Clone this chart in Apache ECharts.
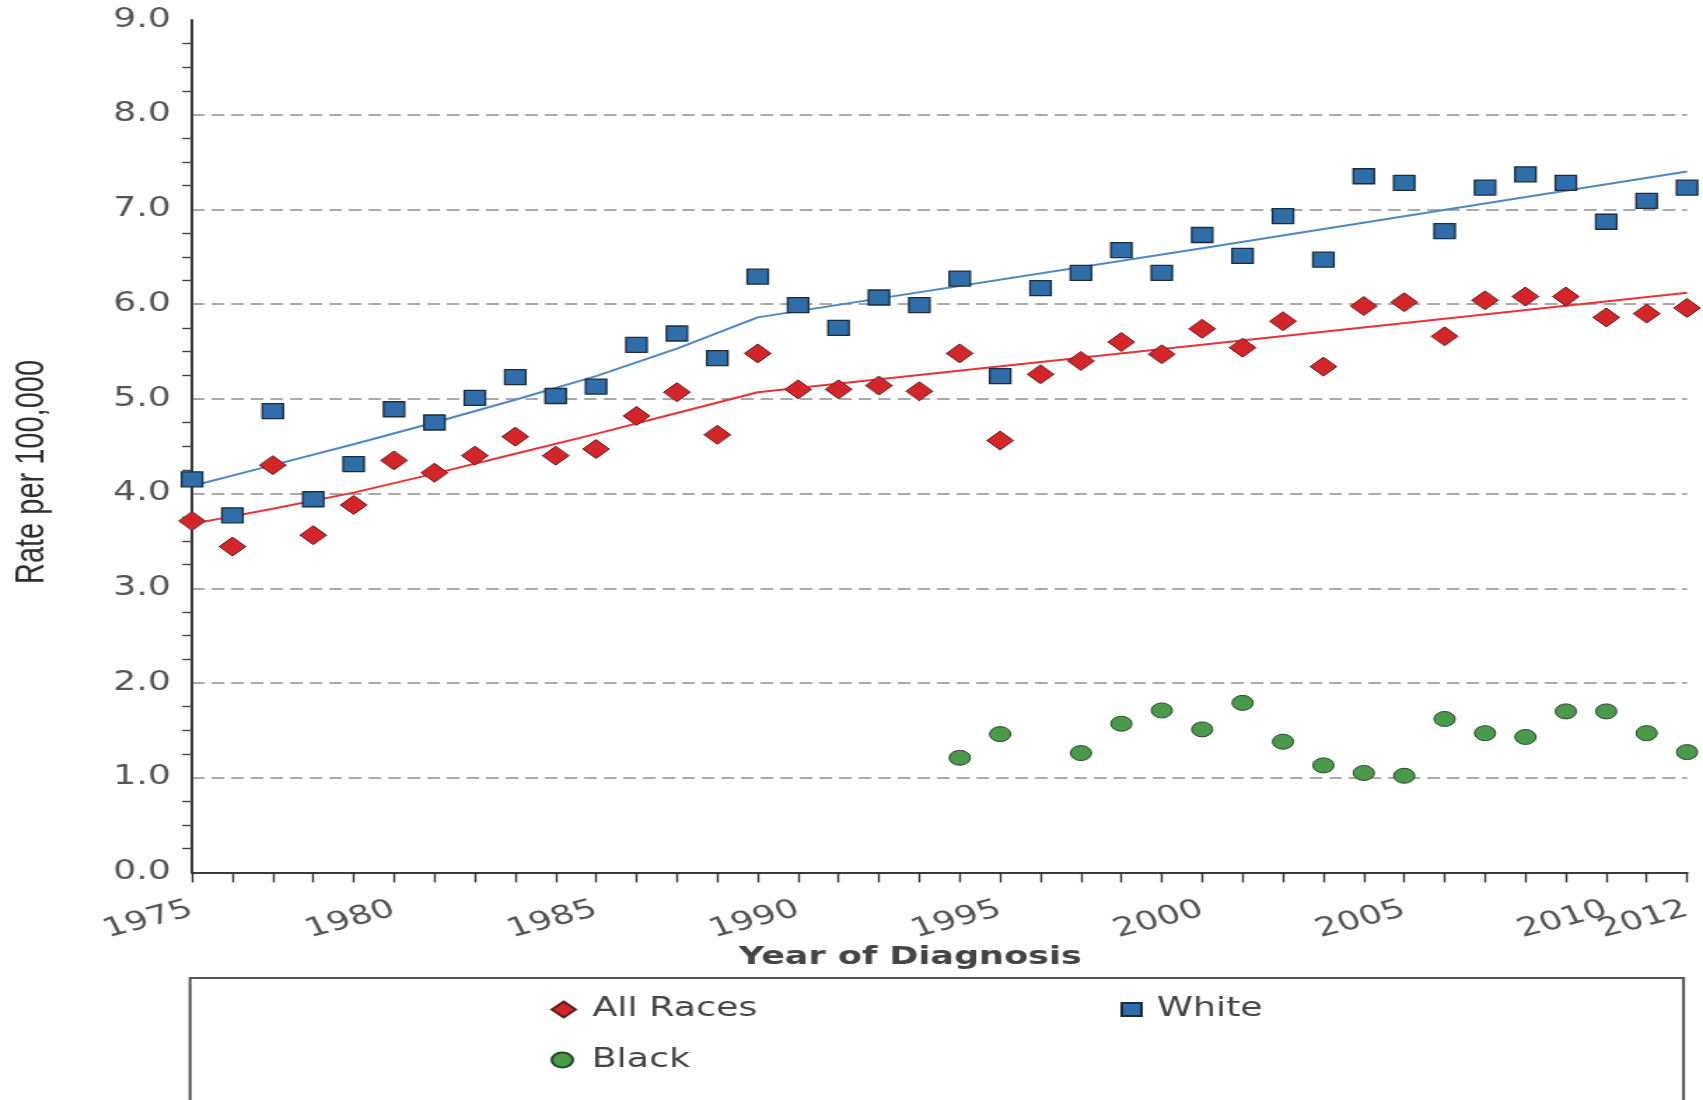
<!DOCTYPE html>
<html>
<head>
<meta charset="utf-8">
<script src="https://cdn.jsdelivr.net/npm/echarts@6/dist/echarts.min.js"></script>
<style>
  html, body { margin: 0; padding: 0; background: #ffffff; overflow: hidden; }
  /* chart is laid out narrow and widened horizontally */
  #chart { width: 1216px; height: 1100px; transform: scaleX(1.4005); transform-origin: 0 0; }
</style>
</head>
<body>
<div id="chart"></div>
<script>
// Year of diagnosis
const years = [1975, 1976, 1977, 1978, 1979, 1980, 1981, 1982, 1983, 1984,
               1985, 1986, 1987, 1988, 1989, 1990, 1991, 1992, 1993, 1994,
               1995, 1996, 1997, 1998, 1999, 2000, 2001, 2002, 2003, 2004,
               2005, 2006, 2007, 2008, 2009, 2010, 2011, 2012];

// Observed rates per 100,000
const allRaces = [3.71, 3.44, 4.30, 3.56, 3.88, 4.35, 4.22, 4.40, 4.60, 4.40,
                  4.47, 4.82, 5.07, 4.62, 5.48, 5.10, 5.10, 5.14, 5.08, 5.48,
                  4.56, 5.26, 5.40, 5.60, 5.47, 5.74, 5.54, 5.82, 5.34, 5.98,
                  6.02, 5.66, 6.04, 6.08, 6.08, 5.86, 5.90, 5.96];
const white = [4.15, 3.77, 4.87, 3.94, 4.31, 4.89, 4.75, 5.01, 5.23, 5.03,
               5.13, 5.57, 5.69, 5.43, 6.29, 5.99, 5.75, 6.07, 5.99, 6.27,
               5.24, 6.17, 6.33, 6.57, 6.33, 6.73, 6.51, 6.93, 6.47, 7.35,
               7.28, 6.77, 7.23, 7.37, 7.28, 6.87, 7.09, 7.23];
const blackYears = [1994, 1995, 1997, 1998, 1999, 2000, 2001, 2002, 2003,
                    2004, 2005, 2006, 2007, 2008, 2009, 2010, 2011, 2012];
const black = [1.21, 1.46, 1.26, 1.57, 1.71, 1.51, 1.79, 1.38, 1.13,
               1.05, 1.02, 1.62, 1.47, 1.43, 1.70, 1.70, 1.47, 1.27];

// Fitted trends
const trendYears = [1975, 1977, 1979, 1981, 1983, 1985, 1987, 1989, 2000, 2012];
const allRacesTrend = [3.68, 3.84, 4.01, 4.21, 4.42, 4.63, 4.85, 5.07, 5.57, 6.12];
const whiteTrend = [4.08, 4.30, 4.52, 4.75, 4.99, 5.24, 5.53, 5.86, 6.59, 7.40];

// Axis labels
const xTickLabels = [1975, 1980, 1985, 1990, 1995, 2000, 2005, 2010, 2012];

const pairs = (xs, ys) => xs.map((x, i) => [x, ys[i]]);

const RED = '#d4252b', RED_EDGE = '#5b1f1f';
const BLUE = '#2f6ea9', BLUE_EDGE = '#1d2c3c';
const GREEN = '#4b9a4b', GREEN_EDGE = '#2a472a';
const FONT = 'DejaVu Sans';

const legendText = (pad) => ({
  fontSize: 26, fontFamily: FONT, color: '#444', lineHeight: 30, padding: [0, 0, 0, pad]
});

const chart = echarts.init(document.getElementById('chart'));
chart.setOption({
  animation: false,
  backgroundColor: '#ffffff',
  grid: { left: 137.1, right: 11.4, top: 20, bottom: 227.6, containLabel: false, outerBoundsMode: 'none' },
  xAxis: {
    type: 'value', min: 1975, max: 2012, interval: 1,
    axisLine: { show: true, onZero: false, lineStyle: { color: '#3a3a3a', width: 2 } },
    axisTick: { show: true, length: 10, lineStyle: { color: '#333', width: 1.4 } },
    axisLabel: {
      rotate: 20, margin: 36, fontSize: 26, fontFamily: FONT, color: '#555',
      formatter: v => xTickLabels.indexOf(v) >= 0 ? String(v) : ''
    },
    splitLine: { show: false }
  },
  yAxis: {
    type: 'value', min: 0, max: 9, interval: 1,
    axisLine: { show: true, lineStyle: { color: '#3a3a3a', width: 2 } },
    axisTick: { show: false },
    minorTick: { show: true, splitNumber: 4, length: 7, lineStyle: { color: '#444', width: 1.4 } },
    axisLabel: { margin: 15, fontSize: 26, fontFamily: FONT, color: '#555', formatter: v => v.toFixed(1) },
    splitLine: {
      show: true, showMinLine: false, showMaxLine: false,
      lineStyle: { color: '#8e8e8e', width: 1.5, type: [9, 5] }
    }
  },
  legend: [
    { data: [{ name: 'All Races', icon: 'diamond' }], left: 393, top: 994.5, padding: 0,
      itemWidth: 17, itemHeight: 16, selectedMode: false, textStyle: legendText(7) },
    { data: [{ name: 'White', icon: 'rect' }], left: 800, top: 994.5, padding: 0,
      itemWidth: 14, itemHeight: 13, selectedMode: false, textStyle: legendText(6) },
    { data: [{ name: 'Black', icon: 'circle' }], left: 393, top: 1045, padding: 0,
      itemWidth: 16, itemHeight: 15, selectedMode: false, textStyle: legendText(8) }
  ],
  graphic: [
    { type: 'text', x: 22.9, y: 472, rotation: Math.PI / 2, silent: true,
      style: { text: 'Rate per 100,000', font: '29px "Liberation Sans"', fill: '#2e2e2e',
               align: 'center', verticalAlign: 'middle' } },
    { type: 'text', x: 650, y: 957, silent: true,
      style: { text: 'Year of Diagnosis', font: 'bold 25px "DejaVu Sans"', fill: '#444',
               align: 'center', verticalAlign: 'middle' } },
    { type: 'rect', silent: true, shape: { x: 135.7, y: 978, width: 1066.4, height: 200 },
      style: { fill: 'none', stroke: '#555', lineWidth: 2 } }
  ],
  series: [
    { name: 'All Races trend', type: 'line', data: pairs(trendYears, allRacesTrend), z: 2,
      symbol: 'none', smooth: false, lineStyle: { color: '#e6343b', width: 2 } },
    { name: 'White trend', type: 'line', data: pairs(trendYears, whiteTrend), z: 2,
      symbol: 'none', smooth: false, lineStyle: { color: '#5088c2', width: 2 } },
    { name: 'All Races', type: 'scatter', data: pairs(years, allRaces), z: 3,
      symbol: 'diamond', symbolSize: 19,
      itemStyle: { color: RED, borderColor: RED_EDGE, borderWidth: 1, opacity: 1 } },
    { name: 'White', type: 'scatter', data: pairs(years, white), z: 3,
      symbol: 'rect', symbolSize: 15,
      itemStyle: { color: BLUE, borderColor: BLUE_EDGE, borderWidth: 1.3, opacity: 1 } },
    { name: 'Black', type: 'scatter', data: pairs(blackYears, black), z: 3,
      symbol: 'circle', symbolSize: 15,
      itemStyle: { color: GREEN, borderColor: GREEN_EDGE, borderWidth: 1, opacity: 1 } }
  ]
});
</script>
</body>
</html>
